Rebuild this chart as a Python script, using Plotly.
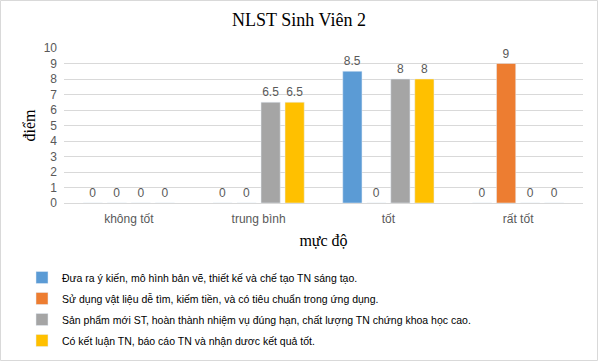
import plotly.graph_objects as go

categories = ["không tốt", "trung bình", "tốt", "rất tốt"]
series_names = [
    "Đưa ra ý kiến, mô hình bản vẽ, thiết kế và chế tạo TN sáng tạo.",
    "Sử dụng vật liệu dễ tìm, kiếm tiền, và có tiêu chuẩn trong ứng dụng.",
    "Sản phẩm mới ST, hoàn thành nhiệm vụ đúng hạn, chất lượng TN chứng khoa học cao.",
    "Có kết luận TN, báo cáo TN và nhận dươc kết quả tốt.",
]
s1 = [0, 0, 8.5, 0]
s2 = [0, 0, 0, 9]
s3 = [0, 6.5, 8, 0]
s4 = [0, 6.5, 8, 0]
colors = ["#5B9BD5", "#ED7D31", "#A5A5A5", "#FFC000"]
y_ticks = list(range(0, 11))

W, H = 598, 361
L, R, T, B = 64, 15, 48, 158
pw, ph = W - L - R, H - T - B

fig = go.Figure()
for i, (name, vals) in enumerate(zip(series_names, [s1, s2, s3, s4])):
    fig.add_trace(go.Bar(
        x=categories, y=vals, name=name, marker_color=colors[i],
        text=[f"{v:g}" for v in vals], textposition="outside",
        textfont=dict(color="#595959", size=12, family="Liberation Sans"),
        cliponaxis=False, legendgroup=f"g{i}",
    ))

fig.update_layout(
    width=W, height=H,
    margin=dict(l=L, r=R, t=T, b=B, autoexpand=False),
    paper_bgcolor="white", plot_bgcolor="white",
    barmode="group", bargap=0.26, bargroupgap=0.2,
    title=dict(text="NLST Sinh Viên 2", x=0.5, xanchor="center", y=0.945, yanchor="middle",
               font=dict(family="Liberation Serif", size=18, color="#000000")),
    font=dict(family="Liberation Sans", color="#595959", size=12),
    legend=dict(orientation="v", x=(22 - L) / pw, xanchor="left", y=-(263 - (T + ph)) / ph, yanchor="top",
                traceorder="grouped", tracegroupgap=2,
                font=dict(family="Liberation Sans", size=10.5, color="#000000"),
                itemwidth=30),
    showlegend=True,
    xaxis=dict(showgrid=False, showline=True, linecolor="#D9D9D9", ticks="",
               ticklabelstandoff=5,
               tickfont=dict(size=12, color="#595959"),
               title=dict(text="mực độ", font=dict(family="Liberation Serif", size=16, color="#000000"),
                          standoff=9)),
    yaxis=dict(range=[0, 10], tickvals=y_ticks, showgrid=True, gridcolor="#D9D9D9",
               zeroline=False, showline=False, ticks="",
               ticklabelstandoff=6,
               tickfont=dict(size=12, color="#595959"),
               title=dict(text="điểm", font=dict(family="Liberation Serif", size=16, color="#000000"),
                          standoff=4)),
    shapes=[dict(type="rect", xref="paper", yref="paper",
                 x0=-(L - 0.5) / pw, x1=1 + (R - 0.5) / pw,
                 y0=-(B - 0.5) / ph, y1=1 + (T - 0.5) / ph,
                 line=dict(color="#D9D9D9", width=1))],
)

fig.write_html("out.html")
